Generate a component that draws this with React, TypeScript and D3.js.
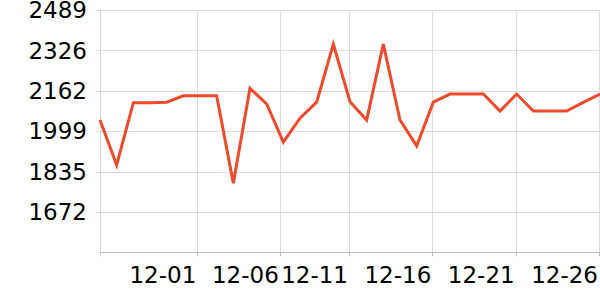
import React from "react";
import * as d3 from "d3";

const dates = [
  "11-26", "11-27", "11-28", "11-29", "11-30", "12-01", "12-02", "12-03", "12-04", "12-05",
  "12-06", "12-07", "12-08", "12-09", "12-10", "12-11", "12-12", "12-13", "12-14", "12-15",
  "12-16", "12-17", "12-18", "12-19", "12-20", "12-21", "12-22", "12-23", "12-24", "12-25", "12-26",
];
const values = [
  2044, 1862, 2114, 2114, 2116, 2142, 2142, 2142, 1788, 2172,
  2109, 1954, 2051, 2116, 2351, 2118, 2044, 2351, 2044, 1939,
  2116, 2149, 2149, 2149, 2080, 2149, 2080, 2080, 2080, 2115, 2149,
];
const yTickLabels = [1672, 1835, 1999, 2162, 2326, 2489];
const yDomain = [1508.6, 2489];
const xTickPositions = [5.9, 10.85, 15, 20, 25, 30];
const xTickLabels = ["12-01", "12-06", "12-11", "12-16", "12-21", "12-26"];

const W = 600;
const H = 300;
const left = 100;
const right = 600;
const top = 10;
const bottom = 252.3;
const FONT = "DejaVu Sans";

export default function App() {
  const x = d3.scaleLinear().domain([0, dates.length - 1]).range([left, right]);
  const y = d3.scaleLinear().domain(yDomain).range([bottom, top]);
  const line = d3
    .line<number>()
    .x((_, i) => x(i))
    .y((d) => y(d));

  return (
    <svg
      width={W}
      height={H}
      style={{ position: "absolute", left: 0, top: 0, background: "#fff" }}
      fontFamily={FONT}
    >
      {/* horizontal grid */}
      {yTickLabels.map((v) => (
        <line
          key={"hy" + v}
          x1={left - 4}
          x2={right}
          y1={Math.round(y(v)) + 0.5}
          y2={Math.round(y(v)) + 0.5}
          stroke="#dcdcdc"
          strokeWidth={1}
        />
      ))}
      {/* vertical grid */}
      {xTickPositions.map((p, i) => (
        <line
          key={"vx" + i}
          x1={Math.round(x(p)) - 0.5}
          x2={Math.round(x(p)) - 0.5}
          y1={top}
          y2={bottom + 3}
          stroke="#dcdcdc"
          strokeWidth={1}
        />
      ))}
      {/* left axis */}
      <line x1={left + 0.5} x2={left + 0.5} y1={top} y2={bottom + 4} stroke="#d4d4d4" strokeWidth={1} />
      {/* bottom axis */}
      <line x1={left} x2={right} y1={Math.round(bottom) + 0.5} y2={Math.round(bottom) + 0.5} stroke="#bdbdbd" strokeWidth={1} />
      {xTickPositions.map((p, i) => (
        <line
          key={"tx" + i}
          x1={Math.round(x(p)) - 0.5}
          x2={Math.round(x(p)) - 0.5}
          y1={bottom}
          y2={bottom + 4}
          stroke="#bdbdbd"
          strokeWidth={1}
        />
      ))}
      {/* y labels */}
      {yTickLabels.map((v) => (
        <text
          key={"ly" + v}
          x={left - 13}
          y={y(v)}
          dy="0.36em"
          textAnchor="end"
          fontSize={23}
          fill="#000"
        >
          {v}
        </text>
      ))}
      {/* x labels */}
      {xTickPositions.map((p, i) => (
        <text
          key={"lx" + i}
          x={x(p) - 2}
          y={283}
          textAnchor="end"
          fontSize={23}
          fill="#000"
        >
          {xTickLabels[i]}
        </text>
      ))}
      {/* series */}
      <path
        d={line(values) || ""}
        fill="none"
        stroke="#ee4a2c"
        strokeWidth={3}
        strokeLinejoin="miter"
      />
    </svg>
  );
}
